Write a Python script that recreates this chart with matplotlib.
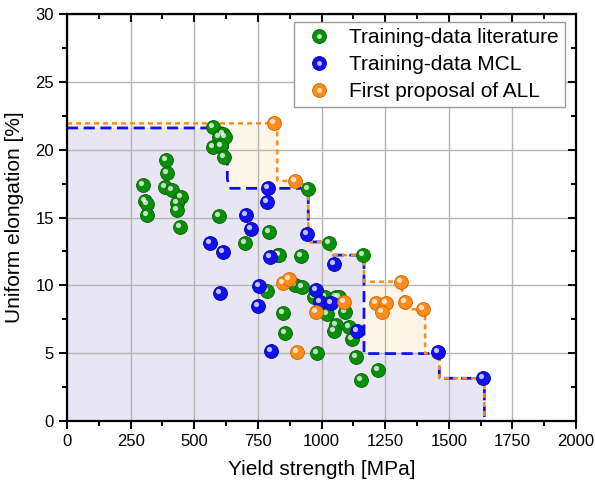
import matplotlib
matplotlib.use("Agg")
import matplotlib.pyplot as plt
import matplotlib.transforms as mtransforms
from matplotlib.lines import Line2D
from matplotlib.legend_handler import HandlerTuple
from matplotlib.ticker import MultipleLocator

plt.rcParams['font.family'] = ['Liberation Sans', 'DejaVu Sans']

# training data from literature
lit_x = [572, 614, 598, 621, 575, 604, 617, 388, 392, 297, 385, 411, 447, 431, 306, 316,
         316, 431, 598, 444, 948, 795, 699, 830, 918, 834, 1031, 1164, 787, 896, 922,
         971, 1014, 1057, 1069, 1023, 1092, 850, 857, 1057, 1049, 1109, 1119, 981, 1136,
         1223, 1154]
lit_y = [21.64, 21.15, 20.95, 20.95, 20.16, 20.26, 19.48, 19.23, 18.3, 17.4, 17.27, 17.0,
         16.48, 16.04, 16.2, 16.0, 15.2, 15.55, 15.1, 14.3, 17.1, 13.95, 13.1, 12.23, 12.16,
         12.2, 13.1, 12.23, 9.6, 10.0, 9.85, 9.16, 9.16, 9.16, 9.16, 7.88, 8.05, 7.93, 6.5,
         7.07, 6.65, 6.95, 6.02, 5.03, 4.69, 3.76, 3.0]

# training data MCL
mcl_x = [788, 785, 703, 723, 562, 612, 798, 944, 1049, 756, 752, 601, 978, 994, 1037,
         1138, 800, 1459, 1636]
mcl_y = [17.2, 16.17, 15.18, 14.15, 13.1, 12.48, 12.06, 13.76, 11.6, 9.95, 8.47, 9.45,
         9.65, 8.8, 8.67, 6.63, 5.18, 5.1, 3.2]

# first proposal of ALL
all_x = [813, 896, 847, 872, 978, 1088, 905, 1311, 1214, 1253, 1236, 1328, 1400]
all_y = [22.0, 17.7, 10.15, 10.45, 8.06, 8.74, 5.11, 10.27, 8.67, 8.67, 8.06, 8.8, 8.23]

# front of the training data
front_x = [0, 612, 630, 630, 643, 948, 948, 955, 1031, 1040, 1164, 1167, 1167, 1459,
           1463, 1463, 1636, 1640, 1640]
front_y = [21.6, 21.6, 21.0, 17.8, 17.15, 17.15, 13.4, 13.2, 13.2, 12.23, 12.23, 11.9,
           4.97, 4.97, 4.6, 3.15, 3.15, 2.8, 0]

# front including the proposal
prop_x = [0, 813, 826, 826, 835, 896, 948, 948, 955, 1031, 1040, 1164, 1167, 1167, 1311,
          1315, 1328, 1340, 1400, 1407, 1407, 1459, 1463, 1463, 1636, 1640, 1640]
prop_y = [21.94, 21.94, 21.6, 17.76, 17.7, 17.7, 17.3, 13.4, 13.2, 13.2, 12.23, 12.23,
          11.9, 10.27, 10.27, 9.8, 8.8, 8.23, 8.23, 7.9, 4.97, 4.97, 4.6, 3.15, 3.15, 2.8, 0]

green = '#0a8f0a'
blue = '#1010f0'
orange = '#ff8c1a'

fig = plt.figure(figsize=(5.95, 4.88), dpi=100)
ax = fig.add_axes([67/595, 67/488, 509/595, 407/488])

ax.fill(prop_x + [0], prop_y + [0], color='#fdf5e8', lw=0, zorder=0.1)
ax.fill(front_x + [0], front_y + [0], color='#e9e6f4', lw=0, zorder=0.2)

ax.plot(front_x, front_y, color=blue, lw=2, ls=(0, (4, 2)), zorder=2)
ax.plot(prop_x, prop_y, color=orange, lw=1.8, ls=(0, (2, 1.6)), zorder=2.1)

hl = mtransforms.offset_copy(ax.transData, fig=fig, x=-2, y=2, units='dots')


def balls(x, y, c, edge):
    ax.scatter(x, y, s=100, c=c, edgecolors=edge, linewidths=0.6, zorder=3)
    ax.scatter(x, y, s=14, c='white', alpha=0.75, lw=0, zorder=3, transform=hl)


balls(lit_x, lit_y, green, '#056005')
balls(mcl_x, mcl_y, blue, '#0000a0')
balls(all_x, all_y, orange, '#c86400')

ax.set_xlim(0, 2000)
ax.set_ylim(0, 30)
ax.xaxis.set_major_locator(MultipleLocator(250))
ax.xaxis.set_minor_locator(MultipleLocator(125))
ax.yaxis.set_major_locator(MultipleLocator(5))
ax.yaxis.set_minor_locator(MultipleLocator(2.5))
ax.set_axisbelow(True)
ax.grid(True, which='major', color='#b4b4b4', lw=1)

for s in ax.spines.values():
    s.set_linewidth(1.6)
ax.tick_params(which='both', labelsize=12, width=1.4)
ax.tick_params(which='major', length=6)
ax.tick_params(which='minor', length=3.5)
ax.tick_params(which='both', top=True, right=True, direction='out')

# top and right ticks point inward
for t in ax.xaxis.get_major_ticks() + ax.xaxis.get_minor_ticks():
    t.tick2line.set_marker(3)
for t in ax.yaxis.get_major_ticks() + ax.yaxis.get_minor_ticks():
    t.tick2line.set_marker(0)

ax.set_xlabel('Yield strength [MPa]', fontsize=15, labelpad=8)
ax.set_ylabel('Uniform elongation [%]', fontsize=15, labelpad=8)


def handle(c, edge):
    base = Line2D([], [], ls='', marker='o', ms=10, mfc=c, mec=edge, mew=0.6)
    top = Line2D([], [], ls='', marker='o', ms=3.5, mfc='white', mec='none', alpha=0.75)
    return (base, top)


leg = ax.legend([handle(green, '#056005'), handle(blue, '#0000a0'), handle(orange, '#c86400')],
                ['Training-data literature', 'Training-data MCL', 'First proposal of ALL'],
                handler_map={tuple: HandlerTuple(ndivide=1)},
                loc='upper right', bbox_to_anchor=(0.978, 0.981), borderaxespad=0,
                fontsize=15, fancybox=False, framealpha=1, edgecolor='#999999',
                handlelength=1.8, handletextpad=0.55, borderpad=0.3, labelspacing=0.38)
leg.get_frame().set_linewidth(1)
leg.set_zorder(5)

fig.savefig('out.png', dpi=100)
